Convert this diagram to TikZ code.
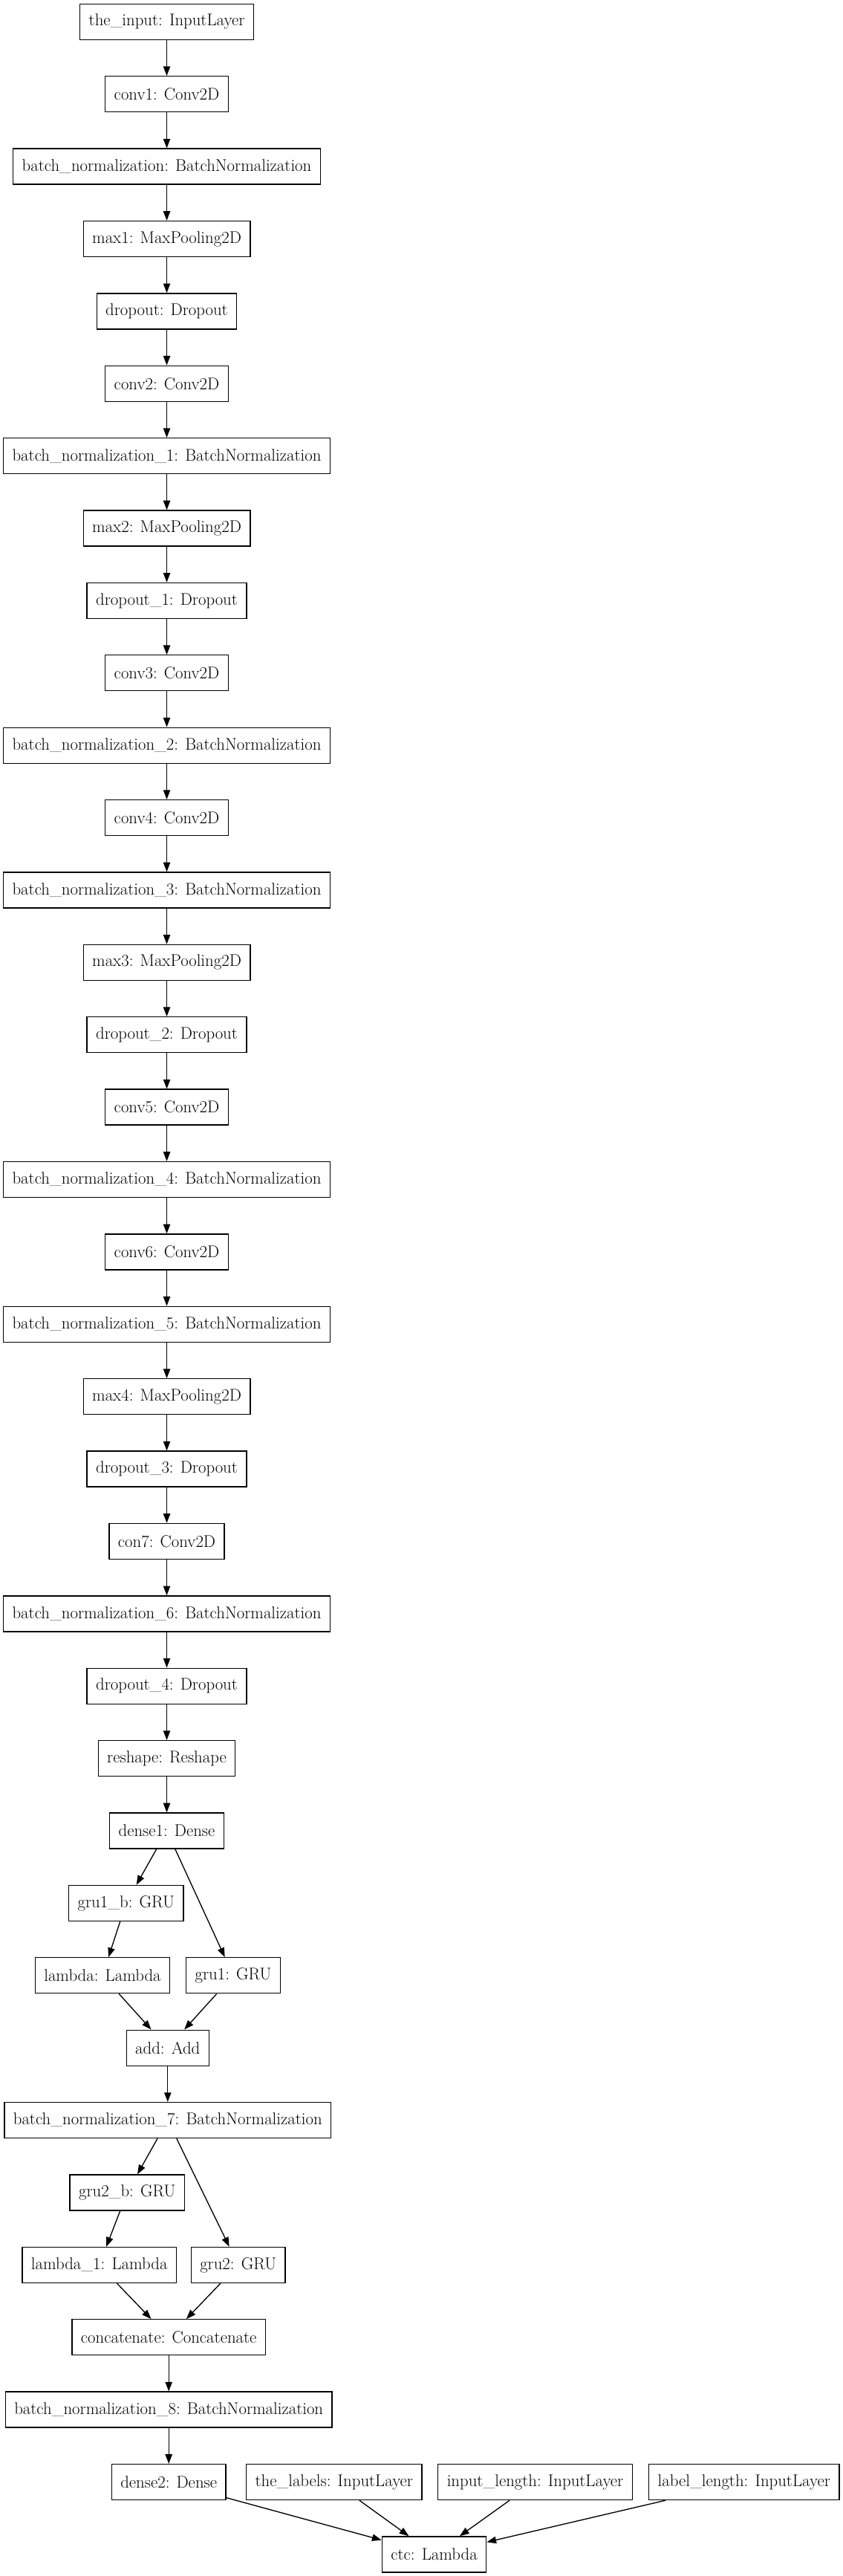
\documentclass[tikz,border=0pt]{standalone}
\usetikzlibrary{arrows.meta}

\begin{document}
\begin{tikzpicture}[x=1pt, y=1pt,
  layerbox/.style={draw, line width=1pt, minimum height=36pt, inner xsep=9pt,
    font=\fontsize{17.1}{20}\selectfont},
  feed/.style={-{Triangle[length=9.5pt, width=7pt]}, line width=1pt}]
\def\rowgap{73.04}
\def\firstrow{22}
\def\midx{168.4}
\def\addx{169.35}
\def\catx{170.4}

\useasboundingbox (0,0) rectangle (851.25,-2600.25);

% convolutional stack
\node[layerbox] (theInput) at (\midx,{-\firstrow-0*\rowgap}) {the\_input: InputLayer};
\node[layerbox] (conv1) at (\midx,{-\firstrow-1*\rowgap}) {conv1: Conv2D};
\node[layerbox] (bn) at (\midx,{-\firstrow-2*\rowgap}) {batch\_normalization: BatchNormalization};
\node[layerbox] (max1) at (\midx,{-\firstrow-3*\rowgap}) {max1: MaxPooling2D};
\node[layerbox] (drop) at (\midx,{-\firstrow-4*\rowgap}) {dropout: Dropout};
\node[layerbox] (conv2) at (\midx,{-\firstrow-5*\rowgap}) {conv2: Conv2D};
\node[layerbox] (bn1) at (\midx,{-\firstrow-6*\rowgap}) {batch\_normalization\_1: BatchNormalization};
\node[layerbox] (max2) at (\midx,{-\firstrow-7*\rowgap}) {max2: MaxPooling2D};
\node[layerbox] (drop1) at (\midx,{-\firstrow-8*\rowgap}) {dropout\_1: Dropout};
\node[layerbox] (conv3) at (\midx,{-\firstrow-9*\rowgap}) {conv3: Conv2D};
\node[layerbox] (bn2) at (\midx,{-\firstrow-10*\rowgap}) {batch\_normalization\_2: BatchNormalization};
\node[layerbox] (conv4) at (\midx,{-\firstrow-11*\rowgap}) {conv4: Conv2D};
\node[layerbox] (bn3) at (\midx,{-\firstrow-12*\rowgap}) {batch\_normalization\_3: BatchNormalization};
\node[layerbox] (max3) at (\midx,{-\firstrow-13*\rowgap}) {max3: MaxPooling2D};
\node[layerbox] (drop2) at (\midx,{-\firstrow-14*\rowgap}) {dropout\_2: Dropout};
\node[layerbox] (conv5) at (\midx,{-\firstrow-15*\rowgap}) {conv5: Conv2D};
\node[layerbox] (bn4) at (\midx,{-\firstrow-16*\rowgap}) {batch\_normalization\_4: BatchNormalization};
\node[layerbox] (conv6) at (\midx,{-\firstrow-17*\rowgap}) {conv6: Conv2D};
\node[layerbox] (bn5) at (\midx,{-\firstrow-18*\rowgap}) {batch\_normalization\_5: BatchNormalization};
\node[layerbox] (max4) at (\midx,{-\firstrow-19*\rowgap}) {max4: MaxPooling2D};
\node[layerbox] (drop3) at (\midx,{-\firstrow-20*\rowgap}) {dropout\_3: Dropout};
\node[layerbox] (con7) at (\midx,{-\firstrow-21*\rowgap}) {con7: Conv2D};
\node[layerbox] (bn6) at (\midx,{-\firstrow-22*\rowgap}) {batch\_normalization\_6: BatchNormalization};
\node[layerbox] (drop4) at (\midx,{-\firstrow-23*\rowgap}) {dropout\_4: Dropout};
\node[layerbox] (reshape) at (\midx,{-\firstrow-24*\rowgap}) {reshape: Reshape};
\node[layerbox] (dense1) at (\midx,{-\firstrow-25*\rowgap}) {dense1: Dense};

% recurrent part
\node[layerbox] (gru1b) at (127.35,{-\firstrow-26*\rowgap}) {gru1\_b: GRU};
\node[layerbox] (lambda) at (103.5,{-\firstrow-27*\rowgap}) {lambda: Lambda};
\node[layerbox] (gru1) at (235.5,{-\firstrow-27*\rowgap}) {gru1: GRU};
\node[layerbox] (add) at (\addx,{-\firstrow-28*\rowgap}) {add: Add};
\node[layerbox] (bn7) at (\addx,{-\firstrow-29*\rowgap}) {batch\_normalization\_7: BatchNormalization};
\node[layerbox] (gru2b) at (128.4,{-\firstrow-30*\rowgap}) {gru2\_b: GRU};
\node[layerbox] (lambda1) at (100.3,{-\firstrow-31*\rowgap}) {lambda\_1: Lambda};
\node[layerbox] (gru2) at (240.5,{-\firstrow-31*\rowgap}) {gru2: GRU};
\node[layerbox] (concat) at (\catx,{-\firstrow-32*\rowgap}) {concatenate: Concatenate};
\node[layerbox] (bn8) at (\catx,{-\firstrow-33*\rowgap}) {batch\_normalization\_8: BatchNormalization};

% outputs and ctc inputs
\node[layerbox] (dense2) at (\catx,{-\firstrow-34*\rowgap}) {dense2: Dense};
\node[layerbox] (theLabels) at (337.35,{-\firstrow-34*\rowgap}) {the\_labels: InputLayer};
\node[layerbox] (inputLength) at (540.4,{-\firstrow-34*\rowgap}) {input\_length: InputLayer};
\node[layerbox] (labelLength) at (751.35,{-\firstrow-34*\rowgap}) {label\_length: InputLayer};
\node[layerbox] (ctc) at (438.4,{-\firstrow-35*\rowgap}) {ctc: Lambda};

\draw[feed] (theInput) -- (conv1);
\draw[feed] (conv1) -- (bn);
\draw[feed] (bn) -- (max1);
\draw[feed] (max1) -- (drop);
\draw[feed] (drop) -- (conv2);
\draw[feed] (conv2) -- (bn1);
\draw[feed] (bn1) -- (max2);
\draw[feed] (max2) -- (drop1);
\draw[feed] (drop1) -- (conv3);
\draw[feed] (conv3) -- (bn2);
\draw[feed] (bn2) -- (conv4);
\draw[feed] (conv4) -- (bn3);
\draw[feed] (bn3) -- (max3);
\draw[feed] (max3) -- (drop2);
\draw[feed] (drop2) -- (conv5);
\draw[feed] (conv5) -- (bn4);
\draw[feed] (bn4) -- (conv6);
\draw[feed] (conv6) -- (bn5);
\draw[feed] (bn5) -- (max4);
\draw[feed] (max4) -- (drop3);
\draw[feed] (drop3) -- (con7);
\draw[feed] (con7) -- (bn6);
\draw[feed] (bn6) -- (drop4);
\draw[feed] (drop4) -- (reshape);
\draw[feed] (reshape) -- (dense1);
\draw[feed] (dense1) -- (gru1b);
\draw[feed] (dense1) -- (gru1);
\draw[feed] (gru1b) -- (lambda);
\draw[feed] (lambda) -- (add);
\draw[feed] (gru1) -- (add);
\draw[feed] (add) -- (bn7);
\draw[feed] (bn7) -- (gru2b);
\draw[feed] (bn7) -- (gru2);
\draw[feed] (gru2b) -- (lambda1);
\draw[feed] (lambda1) -- (concat);
\draw[feed] (gru2) -- (concat);
\draw[feed] (concat) -- (bn8);
\draw[feed] (bn8) -- (dense2);
\draw[feed] (dense2) -- (ctc);
\draw[feed] (theLabels) -- (ctc);
\draw[feed] (inputLength) -- (ctc);
\draw[feed] (labelLength) -- (ctc);
\end{tikzpicture}
\end{document}
